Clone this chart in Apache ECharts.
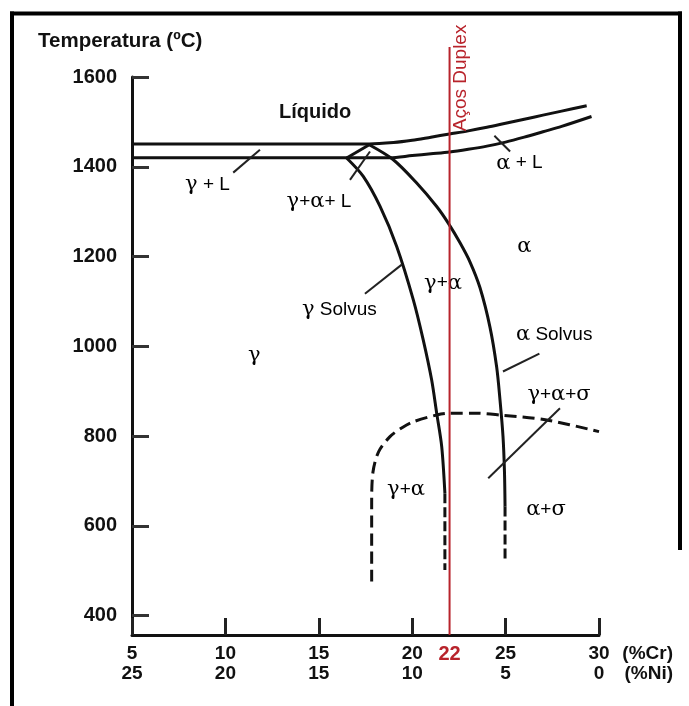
<!DOCTYPE html>
<html><head><meta charset="utf-8">
<script src="https://cdn.jsdelivr.net/npm/echarts@6/dist/echarts.min.js"></script>
<style>html,body{margin:0;padding:0;background:#fff}#c{width:689px;height:706px}</style>
</head><body><div id="c"></div>
<script>
// ---- tick labels ----
const crTicks = [5, 10, 15, 20, 25, 30];
const niTicks = [25, 20, 15, 10, 5, 0];
const tempTicks = [400, 600, 800, 1000, 1200, 1400, 1600];
const duplexCr = 22;
const duplexLine = [[22, 357], [22, 1667]];

// ---- phase boundaries (%Cr, °C) ----
const liquidus = [[5,1451],[17.7,1451],[19,1454],[20,1459],[21,1466],[22,1473],[23,1480],[24,1488],[25,1497],[26,1506],[27,1515],[28,1524],[29.34,1536]];
const solidus = [[5,1420],[18.8,1420],[20,1425],[21,1429],[22,1433],[23,1439],[24,1446],[25,1455],[26,1466],[27,1478],[28,1490],[29.6,1512]];
const triangleEdge = [[16.49,1419.5],[17.7,1449]];
const gammaSolvus = [[16.49,1419.5],[17.38,1378.5],[18.28,1311.6],[19.17,1222.5],[20.06,1103.7],[20.59,1014.5],[21.04,925.4],[21.31,851.2],[21.58,776.7],[21.75,672.9]];
const gammaSolvusDashed = [[21.75,672.9],[21.75,502]];
const alphaSolvus = [[17.7,1449],[18.99,1415.7],[20.24,1363.8],[21.31,1311.6],[21.93,1274.6],[22.56,1230.7],[23.09,1188.4],[23.63,1130.4],[24.16,1043.5],[24.52,954.4],[24.7,880.8],[24.86,800],[24.94,720],[24.97,643]];
const alphaSolvusDashed = [[24.97,643],[24.97,524]];
const sigmaBoundary = [[17.83,476],[17.83,650],[17.9,720],[18.2,765],[18.81,799],[19.5,820],[20.06,832],[21.31,847],[22.02,851],[23.5,851],[24.7,847],[27.2,836],[30,810]];

// ---- leader lines ----
const pointers = [
  [[10.42,1387],[11.85,1438]],
  [[16.67,1371],[17.74,1434]],
  [[24.40,1469],[25.24,1434]],
  [[17.47,1117],[19.44,1182]],
  [[24.86,944],[26.81,984]],
  [[24.07,706],[27.91,862]]
];

// ---- region labels ----
const liquidLabel = [[14.8, 1521, 'Líquido']];
const phaseLabels = [
  [9.04, 1360, 'γ + L'],
  [15.01, 1323, 'γ+α+ L'],
  [25.74, 1408, 'α + L'],
  [26.0, 1222, 'α'],
  [16.1, 1081, 'γ Solvus'],
  [21.65, 1141, 'γ+α'],
  [27.6, 1026, 'α Solvus'],
  [11.55, 979, 'γ'],
  [27.86, 892, 'γ+α+σ'],
  [19.67, 680, 'γ+α'],
  [27.16, 636, 'α+σ']
];
const duplexLabel = [[22.61, 1598, 'Aços Duplex']];

const RED = '#b8232b';
const INK = '#111';
const SANS = 'Liberation Sans, Arial, sans-serif';

function greek(s) { return s.replace(/[γασ]/g, m => '{g|' + m + '}'); }

const curve = (data, extra) => Object.assign({
  type: 'line', data, symbol: 'none', silent: true, smooth: 0.3,
  lineStyle: { color: INK, width: 3 }, z: 3
}, extra || {});

const series = [
  curve(liquidus),
  curve(solidus),
  curve(triangleEdge, { smooth: false }),
  curve(gammaSolvus),
  curve(gammaSolvusDashed, { smooth: false, lineStyle: { color: INK, width: 3, type: [10, 4] } }),
  curve(alphaSolvus),
  curve(alphaSolvusDashed, { smooth: false, lineStyle: { color: INK, width: 3, type: [10, 4] } }),
  curve(sigmaBoundary, { lineStyle: { color: INK, width: 3, type: [12, 6] } })
];
pointers.forEach(p => series.push(curve(p, { smooth: false, lineStyle: { color: '#222', width: 2 } })));

series.push({
  type: 'scatter', data: phaseLabels, symbolSize: 0, silent: true, z: 5,
  itemStyle: { opacity: 1 },
  label: {
    show: true, position: 'inside', formatter: p => greek(p.data[2]),
    fontFamily: SANS, fontSize: 19, color: '#000', opacity: 1,
    rich: { g: { fontFamily: 'DejaVu Serif, serif', fontSize: 21, color: '#000' } }
  }
});
series.push({
  type: 'scatter', data: liquidLabel, symbolSize: 0, silent: true, z: 5,
  itemStyle: { opacity: 1 },
  label: { show: true, position: 'inside', formatter: p => p.data[2], opacity: 1,
    fontFamily: SANS, fontSize: 20, fontWeight: 'bold', color: INK }
});
series.push({
  type: 'line', data: duplexLine, symbol: 'none', silent: true, clip: false, z: 6,
  lineStyle: { color: RED, width: 2 }
});
series.push({
  type: 'scatter', data: duplexLabel, symbolSize: 0, silent: true, clip: false, z: 6,
  itemStyle: { opacity: 1 },
  label: { show: true, position: 'inside', rotate: 90, formatter: p => p.data[2], opacity: 1,
    fontFamily: SANS, fontSize: 19, color: RED }
});

const chart = echarts.init(document.getElementById('c'), null, { renderer: 'canvas' });
chart.setOption({
  animation: false,
  backgroundColor: '#fff',
  title: {
    text: 'Temperatura (ºC)', left: 38, top: 31, padding: 0,
    textStyle: { fontFamily: SANS, fontSize: 20.5, fontWeight: 'bold', color: INK }
  },
  grid: { left: 132, right: 90, top: 77, bottom: 71 },
  xAxis: {
    type: 'value', min: 5, max: 30,
    name: '(%Cr)\n(%Ni)', nameLocation: 'end', nameGap: 74,
    nameTextStyle: { fontFamily: SANS, fontSize: 19, fontWeight: 'bold', color: INK,
      align: 'right', verticalAlign: 'top', lineHeight: 20, padding: [9, 0, 0, 0] },
    axisLine: { lineStyle: { color: INK, width: 3 } },
    axisTick: { inside: true, length: 17, customValues: crTicks, lineStyle: { color: '#222', width: 3 } },
    axisLabel: {
      customValues: crTicks.concat([duplexCr]), margin: 9,
      formatter: v => {
        if (v === duplexCr) return '{r|' + v + '}\n{a| }';
        const i = crTicks.indexOf(v);
        return '{a|' + v + '}\n{a|' + niTicks[i] + '}';
      },
      rich: {
        a: { fontFamily: SANS, fontSize: 19, fontWeight: 'bold', color: INK, lineHeight: 20 },
        r: { fontFamily: SANS, fontSize: 20, fontWeight: 'bold', color: RED, lineHeight: 20 }
      }
    },
    splitLine: { show: false }
  },
  yAxis: {
    type: 'value', min: 357, max: 1600,
    axisLine: { show: true, lineStyle: { color: INK, width: 3 } },
    axisTick: { show: true, inside: true, length: 17, customValues: tempTicks, lineStyle: { color: '#333', width: 3 } },
    axisLabel: { customValues: tempTicks, margin: 15, formatter: v => String(v),
      fontFamily: SANS, fontSize: 20, fontWeight: 'bold', color: INK },
    splitLine: { show: false }
  },
  graphic: [
    { type: 'line', silent: true, shape: { x1: 12, y1: 11.5, x2: 12, y2: 706 }, style: { stroke: '#000', lineWidth: 4 } },
    { type: 'line', silent: true, shape: { x1: 10, y1: 13.5, x2: 682, y2: 13.5 }, style: { stroke: '#000', lineWidth: 4 } },
    { type: 'line', silent: true, shape: { x1: 680, y1: 11.5, x2: 680, y2: 550 }, style: { stroke: '#000', lineWidth: 4 } }
  ],
  series
});
</script>
</body></html>
